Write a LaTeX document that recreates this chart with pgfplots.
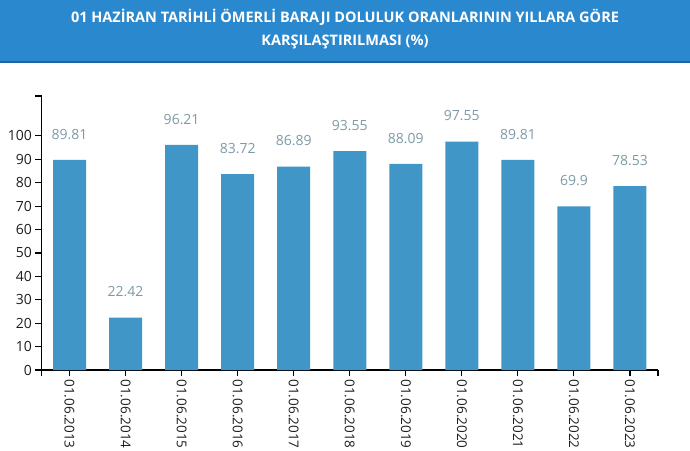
\documentclass[border=0pt]{standalone}
\usepackage{pgfplots}
\pgfplotsset{compat=1.18}
\usepackage{fontspec}
\setmainfont{Open Sans}
\definecolor{hdr}{RGB}{42,136,206}
\definecolor{hdrline}{RGB}{30,100,160}
\definecolor{barc}{RGB}{65,150,200}
\definecolor{vallab}{RGB}{125,154,165}
\definecolor{ticklab}{RGB}{30,30,30}
\begin{document}
\begin{tikzpicture}[x=1pt,y=1pt]
\useasboundingbox (0,0) rectangle (690,450);
\fill[hdr] (0,388) rectangle (690,450);
\fill[hdrline] (0,386.5) rectangle (690,388.5);
\node[text=white,font=\fontsize{14.5}{17}\selectfont\bfseries] at (345,433) {01 HAZİRAN TARİHLİ ÖMERLİ BARAJI DOLULUK ORANLARININ YILLARA GÖRE};
\node[text=white,font=\fontsize{14.5}{17}\selectfont\bfseries] at (345,408) {KARŞILAŞTIRILMASI (\%)};
\begin{axis}[
  at={(41.5pt,80pt)}, anchor=south west,
  scale only axis, width=616.5pt, height=274pt,
  xmin=-0.5, xmax=10.5, ymin=0, ymax=117.06,
  axis x line*=bottom, axis y line*=left,
  axis line style={black, line width=1.3pt, -},
  tick style={black, line width=1.1pt},
  major tick length=6pt, tick align=outside,
  xtick={0,...,10},
  xticklabels={01.06.2013,01.06.2014,01.06.2015,01.06.2016,01.06.2017,01.06.2018,01.06.2019,01.06.2020,01.06.2021,01.06.2022,01.06.2023},
  x tick label style={rotate=-90, anchor=west, font=\fontsize{13.5}{15}\selectfont, text=ticklab},
  ytick={0,10,...,100},
  y tick label style={font=\fontsize{14}{16}\selectfont, text=ticklab},
  extra x ticks={-0.5,10.5}, extra x tick labels={},
  extra y ticks={117.06}, extra y tick labels={},
  /pgf/number format/assume math mode=true,
  ybar, bar width=33pt,
  point meta=explicit symbolic,
  nodes near coords,
  every node near coord/.append style={text=vallab, font=\fontsize{14}{16}\selectfont, yshift=17pt},
  clip=false,
]
\addplot[fill=barc, draw=none] coordinates {
 (0,89.81) [89.81]
 (1,22.42) [22.42]
 (2,96.21) [96.21]
 (3,83.72) [83.72]
 (4,86.89) [86.89]
 (5,93.55) [93.55]
 (6,88.09) [88.09]
 (7,97.55) [97.55]
 (8,89.81) [89.81]
 (9,69.9) [69.9]
 (10,78.53) [78.53]
};
\end{axis}
\end{tikzpicture}
\end{document}
